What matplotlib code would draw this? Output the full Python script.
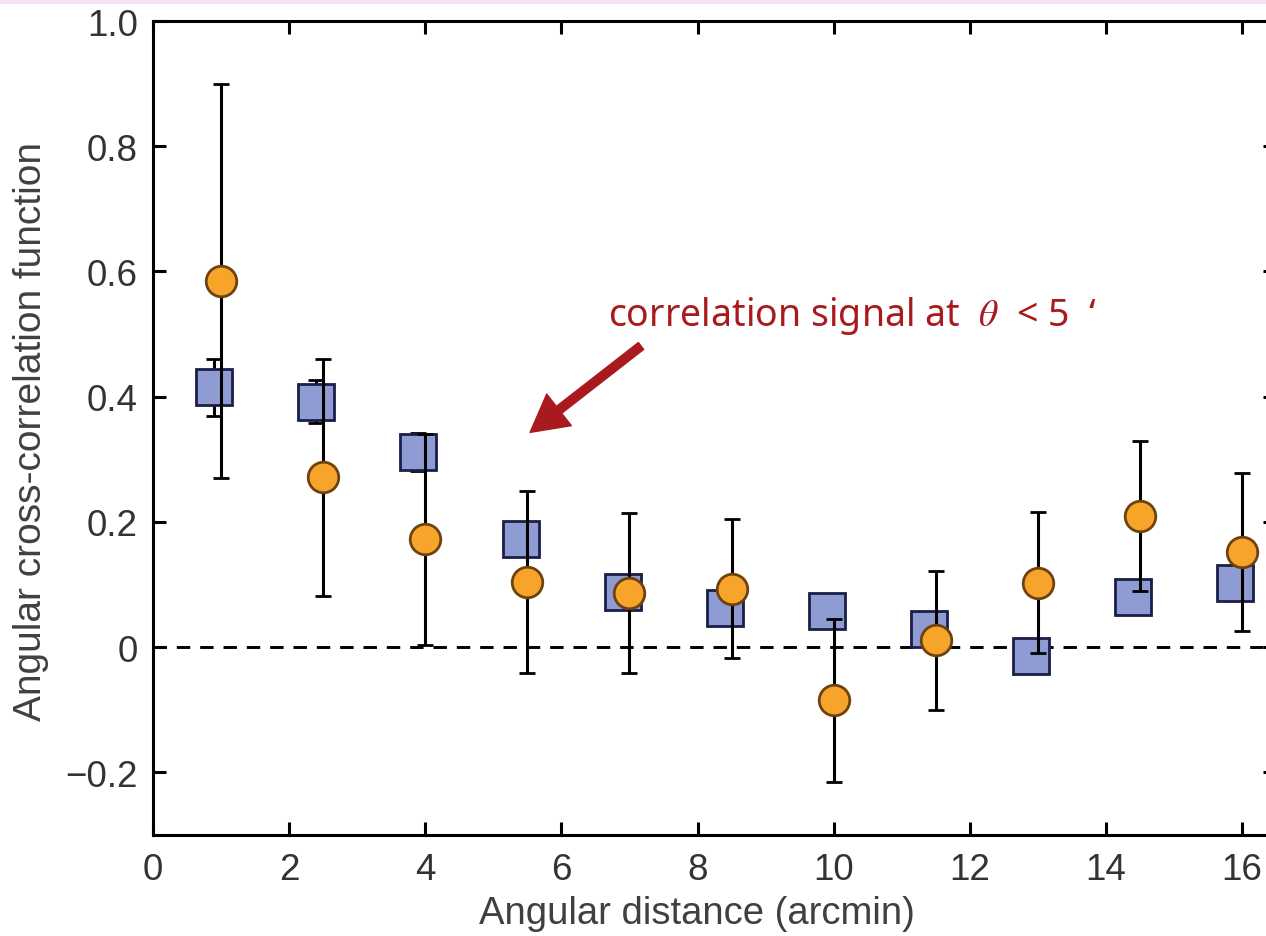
import matplotlib
matplotlib.use("Agg")
import matplotlib.pyplot as plt
from matplotlib.patches import Rectangle

# angular bins (arcmin) for the two samples
theta_sq = [0.9, 2.4, 3.9, 5.4, 6.9, 8.4, 9.9, 11.4, 12.9, 14.4, 15.9]
theta_ci = [1.0, 2.5, 4.0, 5.5, 7.0, 8.5, 10.0, 11.5, 13.0, 14.5, 16.0]

# cross-correlation values and 1-sigma errors
w_sq = [0.415, 0.392, 0.312, 0.172, 0.088, 0.062, 0.057, 0.029, -0.014, 0.080, 0.102]
err_sq = [0.046, 0.034, 0.030, 0.020, 0.020, 0.020, 0.020, 0.020, 0.020, 0.020, 0.020]
w_ci = [0.585, 0.271, 0.172, 0.104, 0.087, 0.093, -0.085, 0.011, 0.103, 0.209, 0.152]
err_ci = [0.315, 0.190, 0.169, 0.145, 0.128, 0.111, 0.130, 0.111, 0.113, 0.120, 0.126]

xticks = [0, 2, 4, 6, 8, 10, 12, 14, 16]
yticks = [-0.2, 0, 0.2, 0.4, 0.6, 0.8, 1.0]
ytick_labels = ['\u22120.2', '0', '0.2', '0.4', '0.6', '0.8', '1.0']

plt.rcParams['font.family'] = ['Liberation Sans', 'DejaVu Sans']
plt.rcParams['mathtext.fontset'] = 'stix'

fig = plt.figure(figsize=(12.66, 9.37), dpi=100)
ax = fig.add_axes([0.1209, 0.1078, 0.887, 0.8687])

# faint pink strip along the top edge
fig.patches.append(Rectangle((0, 1 - 4 / 937), 1, 4 / 937, transform=fig.transFigure,
                             color='#f6e4f6', zorder=0))

ax.axhline(0, color='black', lw=2.1, dashes=(4.6, 3.4), zorder=1)

ax.errorbar(theta_sq, w_sq, yerr=err_sq, fmt='s', ms=25.5, mfc='#8f9bd3', mec='#1b1e48',
            mew=2, ecolor='black', elinewidth=2.2, capsize=5.5, capthick=2.2, zorder=2)
ax.errorbar(theta_ci, w_ci, yerr=err_ci, fmt='o', ms=22, mfc='#f7a52a', mec='#6e4210',
            mew=2, ecolor='black', elinewidth=2.2, capsize=5.5, capthick=2.2, zorder=3)

ax.set_xlim(0, 16.5)
ax.set_ylim(-0.3, 1.0)
ax.set_xticks(xticks)
ax.set_xticklabels([str(t) for t in xticks])
ax.set_yticks(yticks)
ax.set_yticklabels(ytick_labels)
ax.tick_params(direction='in', length=9.5, width=2.2, top=True, right=True,
               labelsize=26.5, labelcolor='#333333')
ax.tick_params(axis='x', pad=12.5)
ax.tick_params(axis='y', pad=11)
for sp in ax.spines.values():
    sp.set_linewidth(2.2)

ax.set_xlabel('Angular distance (arcmin)', fontsize=27.5, color='#404040')
ax.set_ylabel('Angular cross-correlation function', fontsize=28, color='#404040')
ax.xaxis.set_label_coords(0.4845, -0.074)
ax.yaxis.set_label_coords(-0.093, 0.4975)

# annotation for the small-scale signal
red = '#a81a1e'
ax.text(6.685, 0.514, 'correlation signal at  $\\theta$  < 5  \u2018', color=red,
        fontsize=27, family=['Noto Sans', 'DejaVu Sans'], va='baseline', ha='left')
ax.annotate('', xy=(5.54, 0.343), xytext=(7.17, 0.481),
            arrowprops=dict(arrowstyle='simple,head_length=1.1,head_width=1.2,tail_width=0.26',
                            mutation_scale=24, color=red, shrinkA=0, shrinkB=0))

fig.savefig('out.png', dpi=100)
